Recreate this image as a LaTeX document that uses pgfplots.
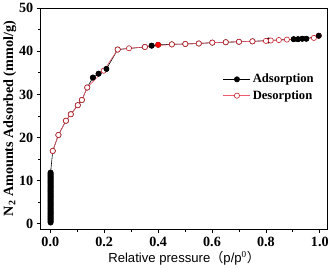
\documentclass[border=0pt]{standalone}
\usepackage{fontspec}
\setmainfont{Liberation Serif}
\newfontfamily\arial{Liberation Sans}
\newfontfamily\cjk{Noto Sans CJK SC}
\usepackage{pgfplots}
\pgfplotsset{compat=1.18}
\definecolor{desc}{RGB}{240,90,110}
\definecolor{desm}{RGB}{200,30,40}
\begin{document}
\begin{tikzpicture}
\begin{axis}[
  width=284pt, height=219pt, scale only axis,
  xmin=-0.035, xmax=1.028, ymin=-1.2, ymax=50,
  xtick={0,0.2,0.4,0.6,0.8,1.0},
  xticklabels={0.0,0.2,0.4,0.6,0.8,1.0},
  minor xtick={0.1,0.3,0.5,0.7,0.9},
  ytick={0,10,20,30,40,50},
  minor ytick={5,15,25,35,45},
  tick align=outside, tick pos=left,
  major tick length=4pt, minor tick length=2.5pt,
  every tick/.style={black, line width=0.8pt},
  axis line style={line width=1pt},
  ticklabel style={font=\fontsize{14}{14}\selectfont\bfseries},
  /pgf/number format/assume math mode=true,
  xlabel={\arial Relative pressure{\cjk （}p/p$^{\mathrm{0}}${\cjk ）}},
  xlabel style={font=\fontsize{13}{13}\selectfont, yshift=2pt},
  ylabel={\textbf{N$_{\mathbf 2}$ Amounts Adsorbed (mmol/g)}},
  ylabel style={font=\fontsize{14}{14}\selectfont, yshift=-4pt},
  legend style={draw=none, fill=none, at={(0.625,0.72)}, anchor=north west,
    font=\fontsize{12.5}{13}\selectfont\bfseries, row sep=2pt},
  legend cell align=left,
  legend image code/.code={\draw[mark repeat=2,mark phase=2] plot coordinates {(0cm,0cm)(0.47cm,0cm)(0.94cm,0cm)};},
]
\addplot[black, line width=0.6pt, mark=*, mark size=2.6pt, mark options={fill=black}] coordinates {
(0.001,0.3)(0.001,0.5)(0.001,0.7)(0.001,0.9)(0.001,1.1)(0.001,1.3)(0.001,1.5)(0.001,1.7)
(0.001,1.9)(0.001,2.1)(0.001,2.3)(0.001,2.5)(0.001,2.7)(0.001,2.9)(0.001,3.1)(0.001,3.3)
(0.001,3.5)(0.001,3.7)(0.001,3.9)(0.001,4.1)(0.001,4.3)(0.001,4.5)(0.001,4.7)(0.001,4.9)
(0.001,5.1)(0.001,5.3)(0.001,5.5)(0.001,5.7)(0.001,5.9)(0.001,6.1)(0.001,6.3)(0.001,6.5)
(0.001,6.7)(0.001,6.9)(0.001,7.1)(0.001,7.3)(0.001,7.5)(0.001,7.7)(0.001,7.9)(0.001,8.1)
(0.001,8.3)(0.001,8.5)(0.001,8.7)(0.001,8.9)(0.001,9.1)(0.001,9.3)(0.001,9.5)(0.001,9.7)
(0.001,9.9)(0.001,10.1)(0.001,10.3)(0.001,10.5)(0.001,10.7)(0.001,10.9)(0.001,11.1)(0.001,11.3)
(0.001,11.5)(0.001,11.7)(0.001,11.9)
(0.009,16.9)(0.030,20.6)(0.058,23.9)(0.076,25.4)(0.102,27.5)(0.117,28.7)
(0.137,31.6)(0.158,33.9)(0.179,34.8)(0.208,35.9)(0.250,40.4)(0.351,41.0)
(0.376,41.3)(0.400,41.5)(0.451,41.6)(0.501,41.7)(0.551,41.8)(0.601,42.0)
(0.651,42.1)(0.700,42.2)(0.750,42.3)(0.810,42.5)(0.903,42.8)(0.919,42.8)
(0.935,42.9)(0.950,42.9)(0.996,43.6)
};
\addlegendentry{Adsorption}
\addplot[desc, line width=0.6pt, mark=*, mark size=2.6pt, mark options={draw=desm, fill=white, line width=0.6pt}] coordinates {
(0.996,43.6)(0.978,43.1)(0.878,42.7)(0.848,42.6)(0.818,42.5)(0.800,42.4)
(0.750,42.3)(0.700,42.2)(0.651,42.1)(0.601,42.0)(0.551,41.8)(0.501,41.7)
(0.451,41.6)(0.351,41.0)(0.292,40.7)(0.250,40.4)(0.198,35.5)(0.137,31.6)
(0.117,28.7)(0.102,27.5)(0.076,25.4)(0.058,23.9)(0.030,20.6)(0.009,16.9)
};
\addlegendentry{Desorption}
\addplot[only marks, mark=*, mark size=2.6pt, mark options={draw=black, fill=black}, forget plot] coordinates {(0.158,33.9)(0.179,34.8)(0.208,35.9)(0.376,41.3)(0.903,42.8)(0.919,42.8)(0.935,42.9)(0.950,42.9)(0.996,43.6)};
\addplot[only marks, mark=*, mark size=2.6pt, mark options={draw=red, fill=red}, forget plot] coordinates {(0.400,41.5)};
\end{axis}
\end{tikzpicture}
\end{document}
